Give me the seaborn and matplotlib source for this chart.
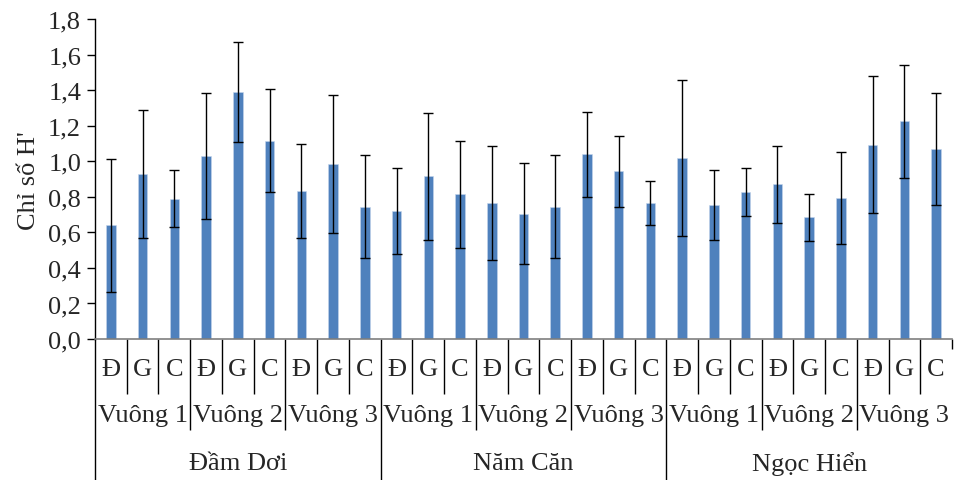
import matplotlib
matplotlib.use("Agg")
import matplotlib.pyplot as plt
import matplotlib.transforms as mtransforms
import seaborn as sns
import pandas as pd
import numpy as np

districts = ["Đầm Dơi", "Năm Căn", "Ngọc Hiển"]
plots = ["Vuông 1", "Vuông 2", "Vuông 3"]
treatments = ["Đ", "G", "C"]

means = [0.64, 0.93, 0.79, 1.03, 1.39, 1.115, 0.835, 0.985, 0.745,
         0.72, 0.915, 0.815, 0.765, 0.705, 0.745, 1.04, 0.945, 0.765,
         1.02, 0.755, 0.83, 0.87, 0.685, 0.795, 1.095, 1.225, 1.07]
errors = [0.375, 0.36, 0.16, 0.355, 0.28, 0.29, 0.265, 0.39, 0.29,
          0.24, 0.357, 0.30, 0.32, 0.285, 0.29, 0.24, 0.20, 0.125,
          0.44, 0.195, 0.135, 0.218, 0.133, 0.26, 0.385, 0.32, 0.315]

rows = []
for di, d in enumerate(districts):
    for pi, p in enumerate(plots):
        for ti, t in enumerate(treatments):
            rows.append({"district": d, "plot": p, "treat": t,
                         "key": f"{d}|{p}|{t}"})
df = pd.DataFrame(rows)
df["H"] = means
df["err"] = errors

sns.set_theme(style="white")
plt.rcParams["font.family"] = ["Liberation Serif", "DejaVu Serif"]

FS = 19
W, H = 956, 481
fig = plt.figure(figsize=(W / 100, H / 100), dpi=100)
ax = fig.add_axes([95 / W, 1 - 340 / H, (952 - 95) / W, (340 - 20.3) / H])

sns.barplot(data=df, x="key", y="H", order=list(df["key"]), color="#4F81BD",
            saturation=1, width=0.3, ax=ax, errorbar=None)
for p in ax.patches:
    p.set_edgecolor("#C5D6EC")
    p.set_linewidth(0.4)
ax.errorbar(np.arange(len(df)), df["H"], yerr=df["err"], fmt="none",
            ecolor="black", elinewidth=1.0, capsize=3.3, capthick=1.0)

ax.set_xlim(-0.5, len(df) - 0.5)
ax.set_ylim(0, 1.8)
yt = np.round(np.arange(0, 1.81, 0.2), 1)
ax.set_yticks(yt)
ax.set_yticklabels([f"{v:.1f}".replace(".", ",") for v in yt], fontsize=FS)
ax.tick_params(axis="y", left=True, direction="out", length=6, width=1, color="black", pad=4)
ax.set_xticks([])
ax.set_xlabel("")
ax.set_ylabel("Chỉ số H'", fontsize=FS, labelpad=6)
for s in ["top", "right"]:
    ax.spines[s].set_visible(False)
ax.spines["left"].set_color("black")
ax.spines["left"].set_linewidth(1)
ax.spines["bottom"].set_color("#7F7F7F")
ax.spines["bottom"].set_linewidth(1.2)

tr = mtransforms.blended_transform_factory(ax.transData, fig.transFigure)
def fy(px):
    return 1 - px / H

n = len(df)
for b in range(n + 1):
    x = b - 0.5
    if b == 0 or (b % 9 == 0 and b < n):
        y2 = 481
    elif b == n:
        y2 = 350
    elif b % 3 == 0:
        y2 = 431
    else:
        y2 = 395
    ax.plot([x, x], [fy(340), fy(y2)], transform=tr, color="black", lw=1.0,
            clip_on=False, solid_capstyle="butt")

for i, r in df.iterrows():
    ax.text(i, fy(370), r["treat"], transform=tr, ha="center", va="center", fontsize=FS)
for g in range(9):
    ax.text(g * 3 + 1, fy(416), plots[g % 3], transform=tr, ha="center", va="center", fontsize=FS)
for d in range(3):
    ax.text(d * 9 + 4, fy(464), districts[d], transform=tr, ha="center", va="center", fontsize=FS)

fig.savefig("out.png", dpi=100)
